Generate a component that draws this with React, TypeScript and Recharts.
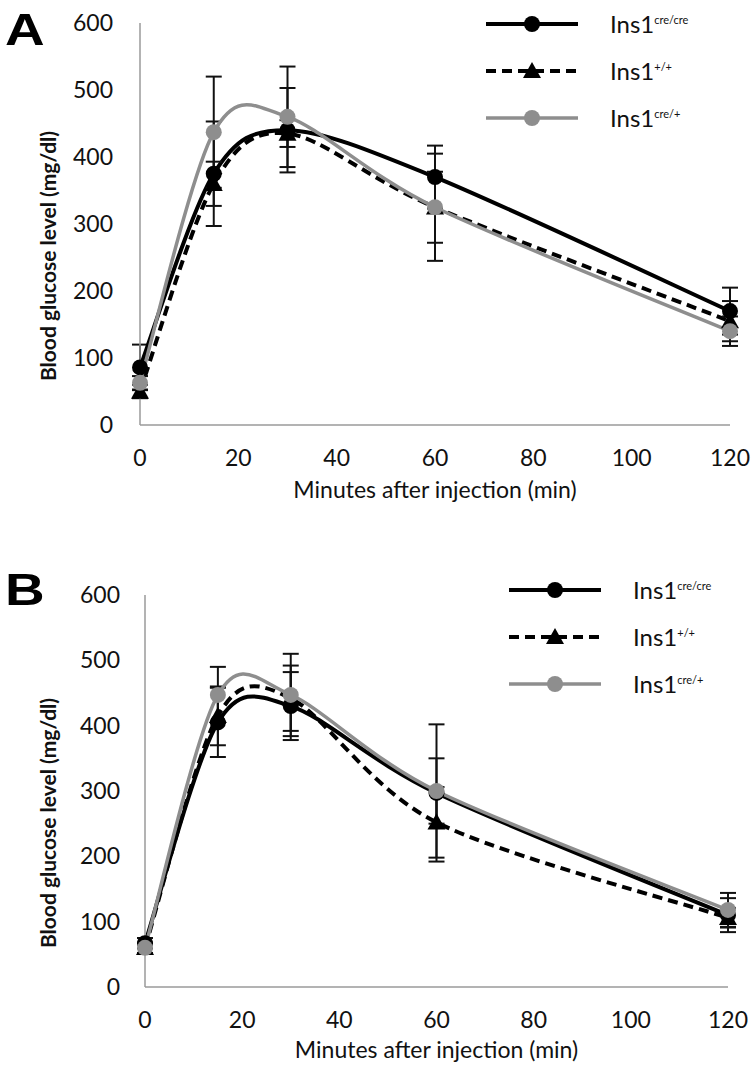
import React from 'react';
import { LineChart, Line, XAxis, YAxis, ErrorBar, Legend } from 'recharts';

const minutes = [0, 15, 30, 60, 120];
const xTicks = [0, 20, 40, 60, 80, 100, 120];
const yTicks = [0, 100, 200, 300, 400, 500, 600];

// panel A
const aCreCre = [86, 375, 440, 370, 170];
const aCreCreErr = [34, 78, 63, 47, 35];
const aWt = [50, 360, 435, 325, 155];
const aWtErr = [10, 33, 20, 80, 30];
const aCreWt = [63, 437, 460, 325, 140];
const aCreWtErr = [10, 83, 75, 53, 22];

// panel B
const bCreCre = [67, 405, 430, 297, 110];
const bCreCreErr = [8, 53, 52, 105, 26];
const bWt = [60, 415, 442, 252, 106];
const bWtErr = [8, 45, 50, 54, 15];
const bCreWt = [60, 447, 447, 300, 118];
const bCreWtErr = [8, 43, 63, 50, 26];

const legendOrder = ['creCre', 'wt', 'creWt'];
const legendSup: Record<string, string> = {
  creCre: 'cre/cre',
  wt: '+/+',
  creWt: 'cre/+',
};

const FONT = "Lato, 'Open Sans', sans-serif";
const GRAY = '#8e8e8e';
const Y_TITLE = 'Blood glucose level (mg/dl)';

const buildRows = (cc: number[], ccE: number[], wt: number[], wtE: number[], cw: number[], cwE: number[]) =>
  minutes.map((m, i) => ({
    min: m,
    creCre: cc[i],
    creCreErr: ccE[i],
    wt: wt[i],
    wtErr: wtE[i],
    creWt: cw[i],
    creWtErr: cwE[i],
  }));

// Excel-like smoothed line (Catmull-Rom to bezier)
const excelCurve = (context: any) => {
  let pts: number[][] = [];
  const k = 1 / 6.5;
  return {
    areaStart() {},
    areaEnd() {},
    lineStart() {
      pts = [];
    },
    point(x: number, y: number) {
      pts.push([+x, +y]);
    },
    lineEnd() {
      if (!pts.length) return;
      context.moveTo(pts[0][0], pts[0][1]);
      for (let i = 0; i < pts.length - 1; i++) {
        const p0 = pts[i - 1] || pts[i];
        const p1 = pts[i];
        const p2 = pts[i + 1];
        const p3 = pts[i + 2] || p2;
        context.bezierCurveTo(
          p1[0] + (p2[0] - p0[0]) * k,
          p1[1] + (p2[1] - p0[1]) * k,
          p2[0] - (p3[0] - p1[0]) * k,
          p2[1] - (p3[1] - p1[1]) * k,
          p2[0],
          p2[1]
        );
      }
    },
  };
};

const TriangleDot = (props: any) => {
  const { cx, cy, index } = props;
  if (cx == null || cy == null) return null;
  const s = 9;
  return (
    <polygon
      key={`tri-${index}`}
      points={`${cx},${cy - s} ${cx - s},${cy + s * 0.8} ${cx + s},${cy + s * 0.8}`}
      fill="#000"
    />
  );
};

const YTitle = (props: any) => {
  const vb = props.viewBox || {};
  const cx = (vb.x ?? 0) + 27;
  const cy = (vb.y ?? 0) + (vb.height ?? 0) / 2 + 32;
  return (
    <text
      x={cx}
      y={cy}
      transform={`rotate(-90, ${cx}, ${cy})`}
      textAnchor="middle"
      dominantBaseline="central"
      fill="#111"
      fontSize={21}
      fontWeight={700}
      fontFamily={FONT}
    >
      {Y_TITLE}
    </text>
  );
};

const renderLegend = (props: any) => {
  const items = [...(props.payload || [])].sort(
    (a: any, b: any) => legendOrder.indexOf(a.dataKey) - legendOrder.indexOf(b.dataKey)
  );
  return (
    <div style={{ fontFamily: FONT }}>
      {items.map((entry: any) => {
        const key = entry.dataKey as string;
        const color = key === 'creWt' ? GRAY : '#000';
        return (
          <div key={key} style={{ display: 'flex', alignItems: 'center', height: 47 }}>
            <svg width={92} height={24}>
              <line
                x1={0}
                x2={92}
                y1={12}
                y2={12}
                stroke={color}
                strokeWidth={key === 'creWt' ? 3.5 : 4}
                strokeDasharray={key === 'wt' ? '10 6' : undefined}
              />
              {key === 'wt' ? (
                <polygon points="46,3 37,19 55,19" fill="#000" />
              ) : (
                <circle cx={46} cy={12} r={8} fill={color} />
              )}
            </svg>
            <span style={{ marginLeft: 32, fontSize: 24, color: '#111', lineHeight: 1 }}>
              Ins1
              <sup style={{ fontSize: 11, verticalAlign: 'top', position: 'relative', top: 2 }}>{legendSup[key]}</sup>
            </span>
          </div>
        );
      })}
    </div>
  );
};

interface PanelProps {
  letter: string;
  top: number;
  rows: any[];
  margin: { top: number; right: number; left: number; bottom: number };
  yWidth: number;
  xHeight: number;
  yTickMargin: number;
  legendTop: number;
  legendLeft: number;
}

const Panel = ({ letter, top, rows, margin, yWidth, xHeight, yTickMargin, legendTop, legendLeft }: PanelProps) => (
  <div style={{ position: 'absolute', top, left: 0, width: 756, height: 510 }}>
    <div
      style={{
        position: 'absolute',
        left: 5,
        top: 7,
        fontFamily: "'Liberation Sans', Arial, sans-serif",
        fontWeight: 700,
        fontSize: 45,
        lineHeight: '45px',
        transform: 'scaleX(1.22)',
        transformOrigin: 'left top',
        color: '#000',
      }}
    >
      {letter}
    </div>
    <LineChart width={756} height={510} data={rows} margin={margin}>
      <XAxis
        dataKey="min"
        type="number"
        domain={[0, 120]}
        ticks={xTicks}
        tickLine={false}
        tickSize={0}
        tickMargin={25}
        stroke="#9a9a9a"
        strokeWidth={1.5}
        height={xHeight}
        tick={{ fill: '#111', fontSize: 23, fontFamily: FONT }}
        label={{
          value: 'Minutes after injection (min)',
          position: 'insideBottom',
          offset: 7,
          style: { fill: '#111', fontSize: 23, fontFamily: FONT },
        }}
      />
      <YAxis
        type="number"
        domain={[0, 600]}
        ticks={yTicks}
        tickLine={false}
        tickSize={0}
        tickMargin={yTickMargin}
        stroke="#9a9a9a"
        strokeWidth={1.5}
        width={yWidth}
        tick={{ fill: '#111', fontSize: 23, fontFamily: FONT }}
        label={<YTitle />}
      />
      <Legend
        content={renderLegend}
        layout="vertical"
        verticalAlign="middle"
        align="center"
        wrapperStyle={{ position: 'absolute', top: legendTop, left: legendLeft, width: 260 }}
      />
      <Line
        dataKey="creCre"
        type={excelCurve as any}
        stroke="#000"
        strokeWidth={4}
        dot={{ r: 8, fill: '#000', stroke: '#000', strokeWidth: 0 }}
        isAnimationActive={false}
      >
        <ErrorBar dataKey="creCreErr" direction="y" width={8} stroke="#111" strokeWidth={2} />
      </Line>
      <Line
        dataKey="wt"
        type={excelCurve as any}
        stroke="#000"
        strokeWidth={4}
        strokeDasharray="10 6"
        dot={TriangleDot}
        isAnimationActive={false}
      >
        <ErrorBar dataKey="wtErr" direction="y" width={8} stroke="#111" strokeWidth={2} />
      </Line>
      <Line
        dataKey="creWt"
        type={excelCurve as any}
        stroke={GRAY}
        strokeWidth={3.5}
        dot={{ r: 8, fill: GRAY, stroke: GRAY, strokeWidth: 0 }}
        isAnimationActive={false}
      >
        <ErrorBar dataKey="creWtErr" direction="y" width={8} stroke="#111" strokeWidth={2} />
      </Line>
    </LineChart>
  </div>
);

export default function App() {
  const rowsA = buildRows(aCreCre, aCreCreErr, aWt, aWtErr, aCreWt, aCreWtErr);
  const rowsB = buildRows(bCreCre, bCreCreErr, bWt, bWtErr, bCreWt, bCreWtErr);
  return (
    <div style={{ position: 'absolute', top: 0, left: 0, width: 756, height: 1070, background: '#fff', overflow: 'hidden' }}>
      <Panel
        letter="A"
        top={0}
        rows={rowsA}
        margin={{ top: 23, right: 26, left: 20, bottom: 5 }}
        yWidth={120}
        xHeight={80}
        yTickMargin={27}
        legendTop={0}
        legendLeft={486}
      />
      <Panel
        letter="B"
        top={560}
        rows={rowsB}
        margin={{ top: 35, right: 28, left: 20, bottom: 5 }}
        yWidth={125}
        xHeight={78}
        yTickMargin={25}
        legendTop={6}
        legendLeft={509}
      />
    </div>
  );
}
